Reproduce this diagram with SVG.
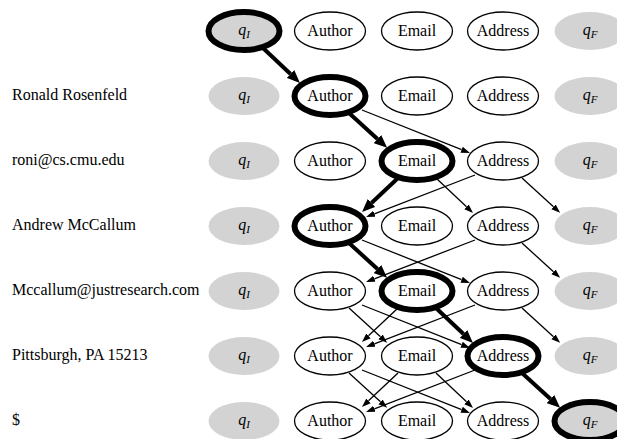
<svg xmlns="http://www.w3.org/2000/svg" width="617" height="439" viewBox="0 0 617 439">
<style>
text{font-family:"Liberation Serif","Times New Roman",serif;font-size:16px;fill:#000}
.lbl{text-anchor:middle}
.st{fill:#d3d3d3;stroke:none}
.stb{fill:#d3d3d3;stroke:#000;stroke-width:6}
.n{fill:#fff;stroke:#000;stroke-width:1.3}
.nb{fill:#fff;stroke:#000;stroke-width:6}
.e{stroke:#000;stroke-width:1.3;fill:none;marker-end:url(#a)}
.eb{stroke:#000;stroke-width:4;fill:none;marker-end:url(#ab)}
.it{font-style:italic}
.sub{font-style:italic;font-size:11px}
</style>
<defs>
<marker id="a" markerUnits="userSpaceOnUse" viewBox="0 -4 9 8" markerWidth="9" markerHeight="8" refX="0" refY="0" orient="auto"><path d="M0,-3.2 L9,0 L0,3.2 z" fill="#000"/></marker>
<marker id="ab" markerUnits="userSpaceOnUse" viewBox="0 -6 13 12" markerWidth="13" markerHeight="12" refX="0" refY="0" orient="auto"><path d="M0,-5.5 L13,0 L0,5.5 z" fill="#000"/></marker>
</defs>
<g id="labels">
<text x="12" y="100">Ronald Rosenfeld</text>
<text x="12" y="165">roni@cs.cmu.edu</text>
<text x="12" y="230">Andrew McCallum</text>
<text x="12" y="295">Mccallum@justresearch.com</text>
<text x="12" y="360">Pittsburgh, PA 15213</text>
<text x="12" y="425">$</text>
</g>
<g id="connectors">
<line class="eb" x1="263" y1="48" x2="290.5" y2="74"/>
<line class="eb" x1="349" y1="113" x2="377.5" y2="139"/>
<line class="eb" x1="398" y1="178" x2="371.5" y2="203"/>
<line class="eb" x1="349" y1="243" x2="377.5" y2="269"/>
<line class="eb" x1="436" y1="308" x2="463.5" y2="334"/>
<line class="eb" x1="522" y1="373" x2="550.5" y2="399"/>
<line class="e" x1="436" y1="178" x2="466.5" y2="206.8"/>
<line class="e" x1="522" y1="178" x2="553.5" y2="206.8"/>
<line class="e" x1="522" y1="243" x2="553.5" y2="271.8"/>
<line class="e" x1="349" y1="308" x2="380.5" y2="336.8"/>
<line class="e" x1="398" y1="308" x2="368.5" y2="335.8"/>
<line class="e" x1="522" y1="308" x2="553.5" y2="336.8"/>
<line class="e" x1="349" y1="373" x2="380.5" y2="401.8"/>
<line class="e" x1="398" y1="373" x2="368.5" y2="400.8"/>
<line class="e" x1="436" y1="373" x2="466.5" y2="401.8"/>
<line class="e" x1="362" y1="110" x2="461.6" y2="149.7"/>
<line class="e" x1="475" y1="175" x2="374.4" y2="213.8"/>
<line class="e" x1="362" y1="240" x2="461.6" y2="279.7"/>
<line class="e" x1="475" y1="240" x2="374.4" y2="278.8"/>
<line class="e" x1="362" y1="305" x2="461.6" y2="344.7"/>
<line class="e" x1="475" y1="305" x2="374.4" y2="343.8"/>
<line class="e" x1="362" y1="370" x2="461.6" y2="409.7"/>
<line class="e" x1="475" y1="370" x2="374.4" y2="408.8"/>
</g>
<g id="row0">
<g id="r0_qI"><ellipse class="stb" cx="244" cy="31" rx="35.5" ry="19"/><text class="lbl" x="244" y="35"><tspan class="it">q</tspan><tspan class="sub" dy="3">I</tspan></text></g>
<g id="r0_author"><ellipse class="n" cx="330" cy="31" rx="35.5" ry="19"/><text class="lbl" x="330" y="36">Author</text></g>
<g id="r0_email"><ellipse class="n" cx="417" cy="31" rx="35.5" ry="19"/><text class="lbl" x="417" y="36">Email</text></g>
<g id="r0_address"><ellipse class="n" cx="503" cy="31" rx="35.5" ry="19"/><text class="lbl" x="503" y="36">Address</text></g>
<g id="r0_qF"><ellipse class="st" cx="590" cy="31" rx="35.5" ry="19"/><text class="lbl" x="590" y="35"><tspan class="it">q</tspan><tspan class="sub" dy="3">F</tspan></text></g>
</g>
<g id="row1">
<g id="r1_qI"><ellipse class="st" cx="244" cy="96" rx="35.5" ry="19"/><text class="lbl" x="244" y="100"><tspan class="it">q</tspan><tspan class="sub" dy="3">I</tspan></text></g>
<g id="r1_author"><ellipse class="nb" cx="330" cy="96" rx="35.5" ry="19"/><text class="lbl" x="330" y="101">Author</text></g>
<g id="r1_email"><ellipse class="n" cx="417" cy="96" rx="35.5" ry="19"/><text class="lbl" x="417" y="101">Email</text></g>
<g id="r1_address"><ellipse class="n" cx="503" cy="96" rx="35.5" ry="19"/><text class="lbl" x="503" y="101">Address</text></g>
<g id="r1_qF"><ellipse class="st" cx="590" cy="96" rx="35.5" ry="19"/><text class="lbl" x="590" y="100"><tspan class="it">q</tspan><tspan class="sub" dy="3">F</tspan></text></g>
</g>
<g id="row2">
<g id="r2_qI"><ellipse class="st" cx="244" cy="161" rx="35.5" ry="19"/><text class="lbl" x="244" y="165"><tspan class="it">q</tspan><tspan class="sub" dy="3">I</tspan></text></g>
<g id="r2_author"><ellipse class="n" cx="330" cy="161" rx="35.5" ry="19"/><text class="lbl" x="330" y="166">Author</text></g>
<g id="r2_email"><ellipse class="nb" cx="417" cy="161" rx="35.5" ry="19"/><text class="lbl" x="417" y="166">Email</text></g>
<g id="r2_address"><ellipse class="n" cx="503" cy="161" rx="35.5" ry="19"/><text class="lbl" x="503" y="166">Address</text></g>
<g id="r2_qF"><ellipse class="st" cx="590" cy="161" rx="35.5" ry="19"/><text class="lbl" x="590" y="165"><tspan class="it">q</tspan><tspan class="sub" dy="3">F</tspan></text></g>
</g>
<g id="row3">
<g id="r3_qI"><ellipse class="st" cx="244" cy="226" rx="35.5" ry="19"/><text class="lbl" x="244" y="230"><tspan class="it">q</tspan><tspan class="sub" dy="3">I</tspan></text></g>
<g id="r3_author"><ellipse class="nb" cx="330" cy="226" rx="35.5" ry="19"/><text class="lbl" x="330" y="231">Author</text></g>
<g id="r3_email"><ellipse class="n" cx="417" cy="226" rx="35.5" ry="19"/><text class="lbl" x="417" y="231">Email</text></g>
<g id="r3_address"><ellipse class="n" cx="503" cy="226" rx="35.5" ry="19"/><text class="lbl" x="503" y="231">Address</text></g>
<g id="r3_qF"><ellipse class="st" cx="590" cy="226" rx="35.5" ry="19"/><text class="lbl" x="590" y="230"><tspan class="it">q</tspan><tspan class="sub" dy="3">F</tspan></text></g>
</g>
<g id="row4">
<g id="r4_qI"><ellipse class="st" cx="244" cy="291" rx="35.5" ry="19"/><text class="lbl" x="244" y="295"><tspan class="it">q</tspan><tspan class="sub" dy="3">I</tspan></text></g>
<g id="r4_author"><ellipse class="n" cx="330" cy="291" rx="35.5" ry="19"/><text class="lbl" x="330" y="296">Author</text></g>
<g id="r4_email"><ellipse class="nb" cx="417" cy="291" rx="35.5" ry="19"/><text class="lbl" x="417" y="296">Email</text></g>
<g id="r4_address"><ellipse class="n" cx="503" cy="291" rx="35.5" ry="19"/><text class="lbl" x="503" y="296">Address</text></g>
<g id="r4_qF"><ellipse class="st" cx="590" cy="291" rx="35.5" ry="19"/><text class="lbl" x="590" y="295"><tspan class="it">q</tspan><tspan class="sub" dy="3">F</tspan></text></g>
</g>
<g id="row5">
<g id="r5_qI"><ellipse class="st" cx="244" cy="356" rx="35.5" ry="19"/><text class="lbl" x="244" y="360"><tspan class="it">q</tspan><tspan class="sub" dy="3">I</tspan></text></g>
<g id="r5_author"><ellipse class="n" cx="330" cy="356" rx="35.5" ry="19"/><text class="lbl" x="330" y="361">Author</text></g>
<g id="r5_email"><ellipse class="n" cx="417" cy="356" rx="35.5" ry="19"/><text class="lbl" x="417" y="361">Email</text></g>
<g id="r5_address"><ellipse class="nb" cx="503" cy="356" rx="35.5" ry="19"/><text class="lbl" x="503" y="361">Address</text></g>
<g id="r5_qF"><ellipse class="st" cx="590" cy="356" rx="35.5" ry="19"/><text class="lbl" x="590" y="360"><tspan class="it">q</tspan><tspan class="sub" dy="3">F</tspan></text></g>
</g>
<g id="row6">
<g id="r6_qI"><ellipse class="st" cx="244" cy="421" rx="35.5" ry="19"/><text class="lbl" x="244" y="425"><tspan class="it">q</tspan><tspan class="sub" dy="3">I</tspan></text></g>
<g id="r6_author"><ellipse class="n" cx="330" cy="421" rx="35.5" ry="19"/><text class="lbl" x="330" y="426">Author</text></g>
<g id="r6_email"><ellipse class="n" cx="417" cy="421" rx="35.5" ry="19"/><text class="lbl" x="417" y="426">Email</text></g>
<g id="r6_address"><ellipse class="n" cx="503" cy="421" rx="35.5" ry="19"/><text class="lbl" x="503" y="426">Address</text></g>
<g id="r6_qF"><ellipse class="stb" cx="590" cy="421" rx="35.5" ry="19"/><text class="lbl" x="590" y="425"><tspan class="it">q</tspan><tspan class="sub" dy="3">F</tspan></text></g>
</g>
</svg>
